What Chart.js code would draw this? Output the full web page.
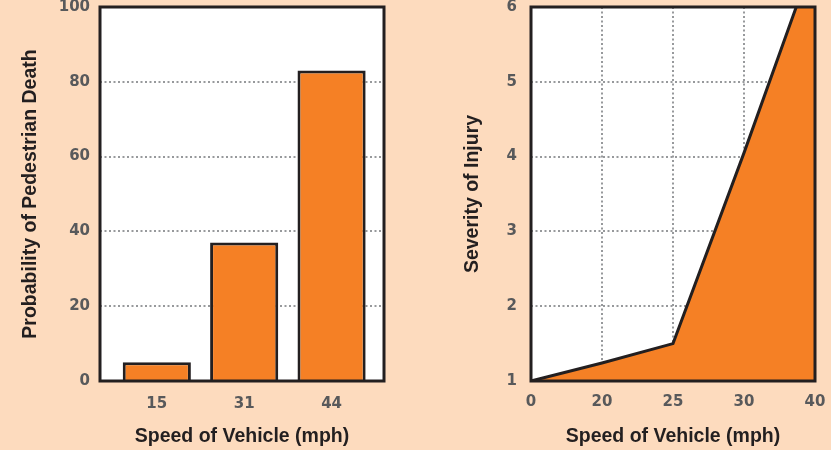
<!DOCTYPE html>
<html>
<head>
<meta charset="utf-8">
<script src="https://cdn.jsdelivr.net/npm/chart.js@4.4.1/dist/chart.umd.min.js"></script>
<style>
  html, body { margin: 0; padding: 0; background: #fddbbe; }
  #wrap { position: relative; width: 831px; height: 450px; overflow: hidden; }
  .box { position: absolute; top: 0; height: 450px; }
  #left { left: 0; width: 415px; }
  #right { left: 415px; width: 416px; }
</style>
</head>
<body>
<div id="wrap">
  <div class="box" id="left"><canvas id="deathChart"></canvas></div>
  <div class="box" id="right"><canvas id="injuryChart"></canvas></div>
</div>
<script>
// left panel: probability of pedestrian death by speed
const deathSpeeds = ['15', '31', '44'];
const deathProb = [5, 37, 83];

// right panel: severity of injury by speed (evenly spaced speed ticks)
const injurySpeeds = ['0', '20', '25', '30', '40'];
const injurySeverity = [1, 1.24, 1.5, 4.05, 6.7];

const INK = '#231f20';
const ORANGE = '#f58025';
const GRID = '#97999c';
const TICK_FONT = { family: "'DejaVu Sans', sans-serif", weight: 'bold', size: 15 };
const TITLE_FONT = { family: "'Liberation Sans', Arial, sans-serif", weight: 'bold', size: 19.5 };

// white plot area + black frame around it
const plotBox = {
  id: 'plotBox',
  beforeDraw(chart) {
    const { ctx, chartArea: a } = chart;
    ctx.save();
    ctx.fillStyle = '#fff';
    ctx.fillRect(a.left, a.top, a.width, a.height);
    ctx.restore();
  },
  afterDraw(chart) {
    const { ctx, chartArea: a } = chart;
    ctx.save();
    ctx.strokeStyle = INK;
    ctx.lineWidth = 3;
    ctx.strokeRect(a.left, a.top, a.width, a.height);
    ctx.restore();
  }
};

function fixY(width) {
  return s => { s.width = width; s.paddingTop = 0; s.paddingBottom = 0; };
}
function fixX(height) {
  return s => { s.height = height; s.paddingLeft = 0; s.paddingRight = 0; };
}

const dotted = { display: false, dash: [2, 2.5] };

new Chart(document.getElementById('deathChart'), {
  type: 'bar',
  data: {
    datasets: [{
      data: deathProb.map((p, i) => ({ x: i + 1, y: p })),
      backgroundColor: ORANGE,
      borderColor: INK,
      borderWidth: 3,
      borderSkipped: 'start',
      categoryPercentage: 1,
      barPercentage: 0.78
    }]
  },
  options: {
    responsive: true,
    maintainAspectRatio: false,
    animation: false,
    layout: { padding: { top: 7, right: 31, bottom: 0, left: 0 } },
    plugins: { legend: { display: false }, tooltip: { enabled: false } },
    scales: {
      x: {
        type: 'linear',
        offset: false,
        min: 0.35,
        max: 3.6,
        afterBuildTicks: s => { s.ticks = deathSpeeds.map((_, i) => ({ value: i + 1 })); },
        afterFit: fixX(69),
        grid: { display: false },
        border: { display: false },
        ticks: { callback: (v, i) => deathSpeeds[i], color: '#58595b', font: TICK_FONT, padding: 6, maxRotation: 0 },
        title: { display: true, text: 'Speed of Vehicle (mph)', color: INK, font: TITLE_FONT, padding: { top: 0, bottom: 2 } }
      },
      y: {
        min: 0,
        max: 100,
        afterFit: fixY(100),
        grid: { color: GRID, lineWidth: 2, drawTicks: false },
        border: dotted,
        ticks: { stepSize: 20, color: '#58595b', font: TICK_FONT, padding: 10 },
        title: { display: true, text: 'Probability of Pedestrian Death', color: INK, font: TITLE_FONT, padding: { top: 19, bottom: 0 } }
      }
    }
  },
  plugins: [plotBox]
});

new Chart(document.getElementById('injuryChart'), {
  type: 'line',
  data: {
    labels: injurySpeeds,
    datasets: [{
      data: injurySeverity,
      borderColor: INK,
      borderWidth: 3,
      backgroundColor: ORANGE,
      fill: 'start',
      pointRadius: 0,
      tension: 0
    }]
  },
  options: {
    responsive: true,
    maintainAspectRatio: false,
    animation: false,
    layout: { padding: { top: 7, right: 16, bottom: 0, left: 0 } },
    plugins: { legend: { display: false }, tooltip: { enabled: false } },
    scales: {
      x: {
        offset: false,
        afterFit: fixX(69),
        grid: { color: GRID, lineWidth: 2, drawTicks: false },
        border: dotted,
        ticks: { color: '#58595b', font: TICK_FONT, padding: 12, maxRotation: 0 },
        title: { display: true, text: 'Speed of Vehicle (mph)', color: INK, font: TITLE_FONT, padding: { top: 0, bottom: 2 } }
      },
      y: {
        min: 1,
        max: 6,
        afterFit: fixY(116),
        grid: { color: GRID, lineWidth: 2, drawTicks: false },
        border: dotted,
        ticks: { stepSize: 1, color: '#58595b', font: TICK_FONT, padding: 14 },
        title: { display: true, text: 'Severity of Injury', color: INK, font: TITLE_FONT, padding: { top: 46, bottom: 0 } }
      }
    }
  },
  plugins: [plotBox]
});
</script>
</body>
</html>
